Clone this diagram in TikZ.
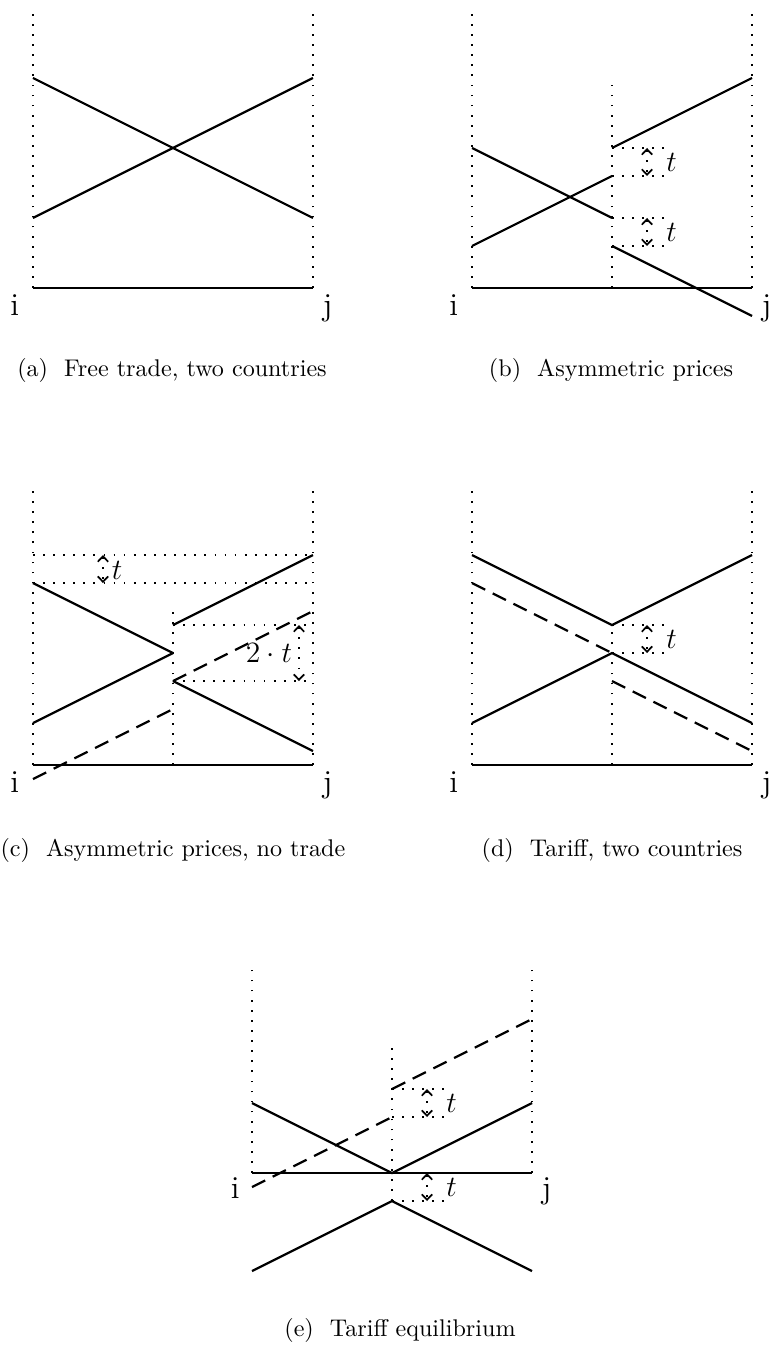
\documentclass[tikz,border=0pt]{standalone}
\usepackage{amsmath}
\usepackage{tikz}
\usetikzlibrary{arrows.meta,positioning,calc}

\begin{document}
\begin{tikzpicture}[
  guide/.style={line width=0.7pt, dash pattern=on 0.7pt off 3.4pt},
  curve/.style={line width=0.9pt},
  shifted/.style={curve, dash pattern=on 6pt off 3.4pt},
  gap/.style={guide, {Straight Barb[length=2.2pt,width=4.2pt]}-{Straight Barb[length=2.2pt,width=4.2pt]}},
  ctry/.style={font=\fontsize{13}{15}\selectfont, anchor=base},
  tlab/.style={font=\fontsize{12}{14}\selectfont},
  capt/.style={font=\fontsize{9.8}{12}\selectfont}
]
\useasboundingbox (0,0) rectangle (11,-19.214);

% (a) free trade
\begin{scope}[shift={(0.471,-4.114)}]
\draw[guide] (0,0) -- (0,4) (4,0) -- (4,4);
\draw[curve] (0,0) -- (4,0);
\draw[curve] (0,3) -- (4,1);
\draw[curve] (0,1) -- (4,3);
\node[ctry] (ia) at (-0.26,-0.39) {i};
\node[ctry] (ja) at (4.21,-0.39) {j};
\end{scope}
\node[capt] (capa) at (2.457,-5.286) {(a)\ \ Free trade, two countries};

% (b) asymmetric prices
\begin{scope}[shift={(6.743,-4.114)}]
\draw[guide] (0,0) -- (0,4) (4,0) -- (4,4) (2,0) -- (2,3);
\draw[curve] (0,0) -- (4,0);
\draw[curve] (0,2) -- (2,1);
\draw[curve] (2,0.6) -- (4,-0.4);
\draw[curve] (0,0.6) -- (2,1.6);
\draw[curve] (2,2) -- (4,3);
\draw[guide] (2,2) -- (2.8,2) (2,1.6) -- (2.8,1.6);
\draw[guide] (2,1) -- (2.8,1) (2,0.6) -- (2.8,0.6);
\draw[gap] (2.5,2) -- (2.5,1.6);
\draw[gap] (2.5,1) -- (2.5,0.6);
\node[tlab] (tb1) at (2.85,1.8) {$t$};
\node[tlab] (tb2) at (2.85,0.8) {$t$};
\node[ctry] (ib) at (-0.26,-0.39) {i};
\node[ctry] (jb) at (4.21,-0.39) {j};
\end{scope}
\node[capt] (capb) at (8.729,-5.286) {(b)\ \ Asymmetric prices};

% (c) asymmetric prices, no trade
\begin{scope}[shift={(0.471,-10.929)}]
\draw[guide] (0,0) -- (0,4) (4,0) -- (4,4) (2,0) -- (2,2.2);
\draw[guide] (0,3) -- (4,3) (0,2.6) -- (4,2.6);
\draw[guide] (2,2) -- (4,2) (2,1.2) -- (4,1.2);
\draw[curve] (0,0) -- (4,0);
\draw[curve] (0,2.6) -- (2,1.6);
\draw[curve] (2,1.2) -- (4,0.2);
\draw[curve] (0,0.6) -- (2,1.6);
\draw[curve] (2,2) -- (4,3);
\draw[shifted] (0,-0.2) -- (2,0.8);
\draw[shifted] (2,1.2) -- (4,2.2);
\draw[gap] (1,3) -- (1,2.6);
\draw[gap] (3.8,2) -- (3.8,1.2);
\node[tlab] (tc1) at (1.2,2.78) {$t$};
\node[tlab] (tc2) at (3.37,1.6) {$2\cdot t$};
\node[ctry] (ic) at (-0.26,-0.39) {i};
\node[ctry] (jc) at (4.21,-0.39) {j};
\end{scope}
\node[capt] (capc) at (2.47,-12.143) {(c)\ \ Asymmetric prices, no trade};

% (d) tariff, two countries
\begin{scope}[shift={(6.743,-10.929)}]
\draw[guide] (0,0) -- (0,4) (4,0) -- (4,4) (2,0) -- (2,2);
\draw[guide] (2,2) -- (2.8,2) (2,1.6) -- (2.8,1.6);
\draw[curve] (0,0) -- (4,0);
\draw[curve] (0,3) -- (2,2) -- (4,3);
\draw[curve] (0,0.6) -- (2,1.6) -- (4,0.6);
\draw[shifted] (0,2.6) -- (2,1.6);
\draw[shifted] (2,1.2) -- (4,0.2);
\draw[gap] (2.5,2) -- (2.5,1.6);
\node[tlab] (td) at (2.85,1.8) {$t$};
\node[ctry] (id) at (-0.26,-0.39) {i};
\node[ctry] (jd) at (4.21,-0.39) {j};
\end{scope}
\node[capt] (capd) at (8.743,-12.143) {(d)\ \ Tariff, two countries};

% (e) tariff equilibrium
\begin{scope}[shift={(3.6,-16.757)}]
\draw[guide] (0,0) -- (0,3) (4,0) -- (4,3) (2,-0.4) -- (2,1.8);
\draw[guide] (2,1.2) -- (2.8,1.2) (2,0.8) -- (2.8,0.8);
\draw[guide] (2,-0.4) -- (2.8,-0.4);
\draw[curve] (0,0) -- (4,0);
\draw[curve] (0,1) -- (2,0) -- (4,1);
\draw[curve] (0,-1.4) -- (2,-0.4) -- (4,-1.4);
\draw[shifted] (0,-0.2) -- (2,0.8);
\draw[shifted] (2,1.2) -- (4,2.2);
\draw[gap] (2.5,1.2) -- (2.5,0.8);
\draw[gap] (2.5,0) -- (2.5,-0.4);
\node[tlab] (te1) at (2.85,1.0) {$t$};
\node[tlab] (te2) at (2.85,-0.2) {$t$};
\node[ctry] (ie) at (-0.24,-0.37) {i};
\node[ctry] (je) at (4.21,-0.37) {j};
\end{scope}
\node[capt] (cape) at (5.714,-19.0) {(e)\ \ Tariff equilibrium};
\end{tikzpicture}
\end{document}
